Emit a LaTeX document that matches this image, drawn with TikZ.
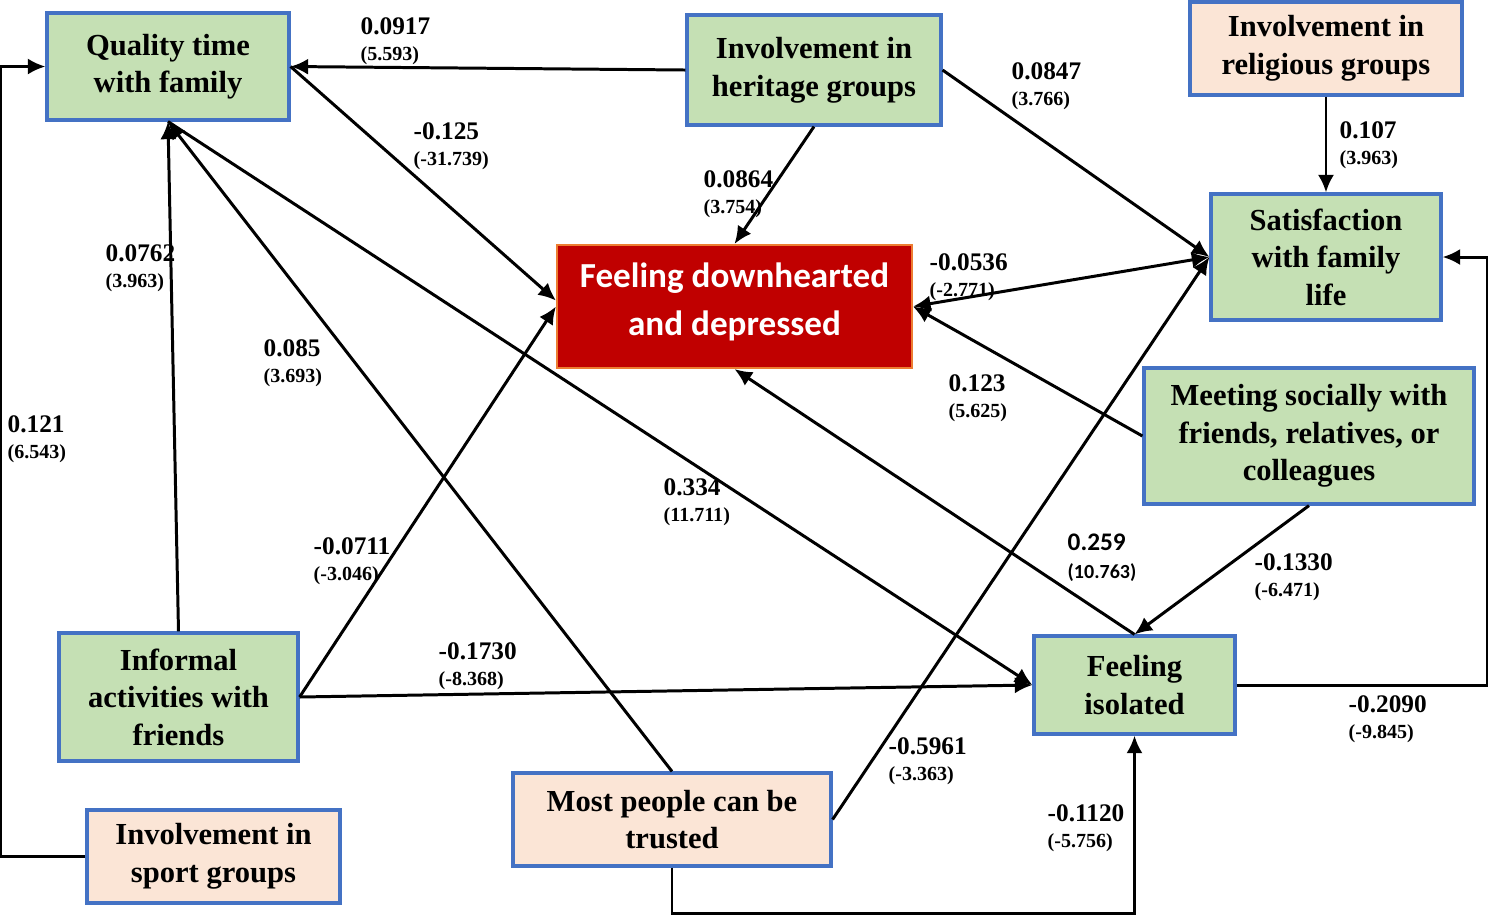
\documentclass[tikz,border=0pt]{standalone}
\usepackage{fontspec}
\setmainfont{Liberation Serif}
\newfontfamily\calfont{Carlito}
\usetikzlibrary{arrows.meta}

\definecolor{boxgreen}{HTML}{C5E0B4}
\definecolor{boxpeach}{HTML}{FBE5D6}
\definecolor{boxblue}{HTML}{4472C4}
\definecolor{deepred}{HTML}{C00000}
\definecolor{rimorange}{HTML}{ED7D31}

\tikzset{
  var/.style={draw=boxblue, line width=0.9pt, align=center, inner sep=0pt,
    font=\fontsize{8.7}{10.7}\selectfont\bfseries},
  greenvar/.style={var, fill=boxgreen},
  peachvar/.style={var, fill=boxpeach},
  link/.style={line width=0.85pt, ->, >={Latex[length=5pt,width=4.6pt]}},
  coef/.style={anchor=north west, inner sep=0pt, align=left,
    font=\fontsize{7.2}{7.4}\selectfont\bfseries},
}
\newcommand{\coefs}[2]{#1\\{\fontsize{5.7}{7.4}\selectfont (#2)}}

\begin{document}
\begin{tikzpicture}
\useasboundingbox (0,0) rectangle (14.88,-9.14);

% variables
\node[greenvar, minimum width=2.42cm, minimum height=1.07cm] (qt) at (1.68,-0.665) {Quality time\\with family};
\node[greenvar, minimum width=2.54cm, minimum height=1.10cm] (her) at (8.14,-0.70) {Involvement in\\heritage groups};
\node[peachvar, minimum width=2.72cm, minimum height=0.93cm] (rel) at (13.26,-0.485) {Involvement in\\religious groups};
\node[greenvar, minimum width=2.30cm, minimum height=1.26cm] (sat) at (13.26,-2.57) {Satisfaction\\with family\\life};
\node[draw=rimorange, line width=0.6pt, fill=deepred, text=white, align=center, inner sep=0pt,
  minimum width=3.55cm, minimum height=1.23cm, font=\calfont\fontsize{10}{13.7}\selectfont\bfseries]
  (dep) at (7.345,-3.065) {Feeling downhearted\\and depressed\rule[-0.9ex]{0pt}{0pt}};
\node[greenvar, minimum width=3.30cm, minimum height=1.36cm] (meet) at (13.09,-4.36) {Meeting socially with\\friends, relatives, or\\colleagues};
\node[greenvar, minimum width=2.01cm, minimum height=0.98cm] (iso) at (11.345,-6.85) {Feeling\\isolated};
\node[greenvar, minimum width=2.39cm, minimum height=1.28cm] (inf) at (1.785,-6.97) {Informal\\activities with\\friends};
\node[peachvar, minimum width=2.53cm, minimum height=0.93cm] (spo) at (2.135,-8.565) {Involvement in\\sport groups};
\node[peachvar, minimum width=3.18cm, minimum height=0.93cm] (tru) at (6.72,-8.195) {Most people can be\\trusted};

% paths
\draw[link] (her.west) -- (qt.east);
\draw[link] (qt.east) -- ([yshift=0.06cm]dep.west);
\draw[link] (inf.north) -- (qt.south);
\draw[link] (tru.north) -- (qt.south);
\draw[link] (qt.south) -- (iso.west);
\draw[link] (her.south) -- (dep.north);
\draw[link] (her.east) -- (sat.west);
\draw[link] (rel.south) -- (sat.north);
\draw[link, <->] (dep.east) -- (sat.west);
\draw[link] (meet.west) -- (dep.east);
\draw[link] (iso.north) -- (dep.south);
\draw[link] (inf.east) -- (dep.west);
\draw[link] (inf.east) -- (iso.west);
\draw[link] (tru.east) -- (sat.west);
\draw[link] (meet.south) -- (iso.north);
\draw[link] (tru.south) -- ++(0,-0.46) -| (iso.south);
\draw[link] (iso.east) -| ([xshift=0.45cm]sat.east) -- (sat.east);
\draw[link] (spo.west) -| ([xshift=-0.45cm]qt.west) -- (qt.west);

% coefficients (t-values)
\foreach \xx/\yy/\cf/\tv [count=\i] in {
  3.60/-0.17/0.0917/5.593, 4.13/-1.22/-0.125/-31.739, 1.05/-2.44/0.0762/3.963,
  2.63/-3.39/0.085/3.693, 0.07/-4.15/0.121/6.543, 7.03/-1.70/0.0864/3.754,
  10.11/-0.62/0.0847/3.766, 13.39/-1.21/0.107/3.963, 9.29/-2.53/-0.0536/-2.771,
  9.48/-3.74/0.123/5.625, 6.63/-4.78/0.334/11.711, 3.13/-5.37/-0.0711/-3.046,
  12.54/-5.53/-0.1330/-6.471, 4.38/-6.42/-0.1730/-8.368, 8.88/-7.37/-0.5961/-3.363,
  10.47/-8.04/-0.1120/-5.756, 13.48/-6.95/-0.2090/-9.845}
  \node[coef] (c\i) at (\xx,\yy) {\coefs{\cf}{\tv}};
\node[coef, font=\calfont\fontsize{7.2}{7.9}\selectfont\bfseries] (csans) at (10.67,-5.33) {\coefs{0.259}{10.763}};
\end{tikzpicture}
\end{document}
